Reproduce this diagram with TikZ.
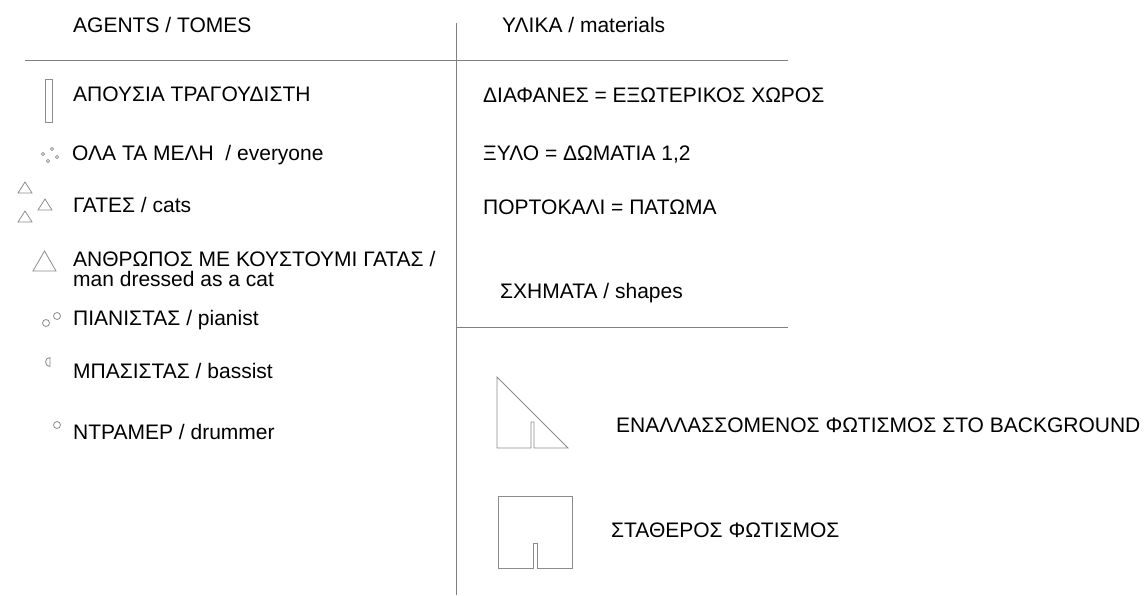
\documentclass[tikz,border=0pt]{standalone}
\usepackage{fontspec}
\setmainfont{Liberation Sans}
\begin{document}
\begin{tikzpicture}[x=1pt,y=-1pt,
  lbl/.style={anchor=base west,inner sep=0pt,font=\fontsize{21}{24}\selectfont,text=black},
  rule/.style={draw=black!50,line width=1pt},
  glyph/.style={draw=black!45,line width=0.8pt}]
\useasboundingbox (0,0) rectangle (1144,595);
% dividers
\draw[rule] (456,23) -- (456,595);
\draw[rule] (25,60.5) -- (788,60.5);
\draw[rule] (456,327.5) -- (788,327.5);
% headers
\node[lbl] (agents) at (73,32) {AGENTS / TOMES};
\node[lbl] (ylika) at (502,32) {ΥΛΙΚΑ / materials};
% left legend
\draw[glyph] (45,79) rectangle (52,122);
\node[lbl] (apousia) at (73,101) {ΑΠΟΥΣΙΑ ΤΡΑΓΟΥΔΙΣΤΗ};
\foreach \p in {(43,154),(52,149),(57,157),(48,161)} \draw[glyph,line width=0.6pt] \p circle (1.6);
\node[lbl] (ola) at (72,160) {ΟΛΑ ΤΑ ΜΕΛΗ \ / everyone};
\draw[glyph] (18,193) -- (32,193) -- (25,182) -- cycle;
\draw[glyph] (38,210) -- (52,210) -- (45,199) -- cycle;
\draw[glyph] (18,222) -- (32,222) -- (25,211) -- cycle;
\node[lbl] (gates) at (73,212) {ΓΑΤΕΣ / cats};
\draw[glyph] (33,271) -- (56,271) -- (44.5,251) -- cycle;
\node[lbl] (anthr) at (73,266) {ΑΝΘΡΩΠΟΣ ΜΕ ΚΟΥΣΤΟΥΜΙ ΓΑΤΑΣ /};
\node[lbl] (man) at (73,286) {man dressed as a cat};
\draw[glyph] (46,323) circle (3.5);
\draw[glyph] (57,316) circle (3.5);
\node[lbl] (pian) at (73,325) {ΠΙΑΝΙΣΤΑΣ / pianist};
\draw[glyph] (50,366.5) arc[start angle=90,end angle=270,radius=4.5] -- cycle;
\node[lbl] (bass) at (73,378) {ΜΠΑΣΙΣΤΑΣ / bassist};
\draw[glyph] (57,425) circle (3.5);
\node[lbl] (drum) at (73,439) {ΝΤΡΑΜΕΡ / drummer};
% right legend
\node[lbl] (diaf) at (483,102) {ΔΙΑΦΑΝΕΣ = ΕΞΩΤΕΡΙΚΟΣ ΧΩΡΟΣ};
\node[lbl] (xylo) at (483,160) {ΞΥΛΟ = ΔΩΜΑΤΙΑ 1,2};
\node[lbl] (port) at (483,214) {ΠΟΡΤΟΚΑΛΙ = ΠΑΤΩΜΑ};
\node[lbl] (schim) at (500,298) {ΣΧΗΜΑΤΑ / shapes};
\draw[glyph] (531,448) -- (497,448) -- (497,377) -- (568,448) -- (534,448) -- (534,422) -- (531,422) -- cycle;
\node[lbl] (enal) at (616,432) {ΕΝΑΛΛΑΣΣΟΜΕΝΟΣ ΦΩΤΙΣΜΟΣ ΣΤΟ BACKGROUND};
\draw[glyph] (533,568) -- (498,568) -- (498,496) -- (572,496) -- (572,568) -- (537,568) -- (537,543) -- (533,543) -- cycle;
\node[lbl] (stath) at (611,537) {ΣΤΑΘΕΡΟΣ ΦΩΤΙΣΜΟΣ};
\end{tikzpicture}
\end{document}
